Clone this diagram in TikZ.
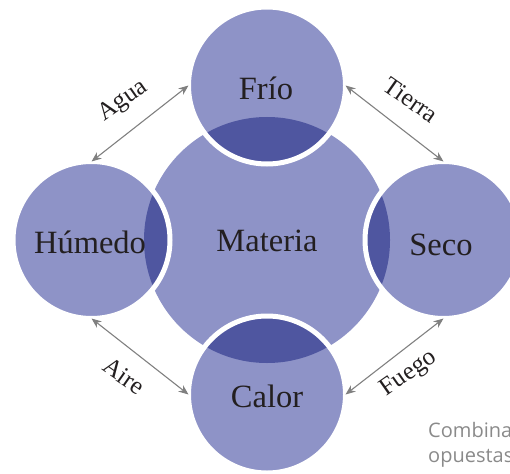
\documentclass[tikz,border=0pt]{standalone}
\usepackage{fontspec}
\setmainfont{Liberation Serif}
\newfontfamily\notefont{Open Sans}
\usetikzlibrary{arrows.meta}
\definecolor{lightc}{HTML}{8E93C7}
\definecolor{darkc}{HTML}{4F56A0}
\definecolor{txt}{HTML}{231F20}
\definecolor{arr}{HTML}{808080}
\definecolor{note}{HTML}{8A8A8A}
\tikzset{
  bigc/.style={circle, fill=lightc, minimum size=246pt, inner sep=0pt, outer sep=0pt},
  smallc/.style={circle, fill=lightc, minimum size=157pt, inner sep=0pt, outer sep=0pt},
  ring/.style={draw=white, line width=5pt},
  ctext/.style={text=txt, font=\fontsize{32.5}{38}\selectfont, inner sep=0pt},
  ltext/.style={text=txt, font=\fontsize{25}{29}\selectfont, inner sep=0pt},
  conn/.style={draw=arr, line width=1.1pt, {Stealth[length=10pt,width=8pt]}-{Stealth[length=10pt,width=8pt]}},
  notestyle/.style={anchor=base west, text=note, font=\notefont\fontsize{20}{24}\selectfont, inner sep=0pt},
}
\begin{document}
\begin{tikzpicture}[x=1pt,y=-1pt]
\useasboundingbox (0,0) rectangle (510,473);
% circles
\node[bigc] (mat) at (267,240) {};
\node[smallc] (frio) at (267,85.5) {};
\node[smallc] (hum) at (91.5,240) {};
\node[smallc] (seco) at (443.5,240) {};
\node[smallc] (calor) at (267,394.5) {};
% dark overlaps
\begin{scope}
  \clip (mat.center) circle[radius=123];
  \fill[darkc] (frio.center) circle[radius=78.5];
  \fill[darkc] (hum.center) circle[radius=78.5];
  \fill[darkc] (seco.center) circle[radius=78.5];
  \fill[darkc] (calor.center) circle[radius=78.5];
\end{scope}
% white rings
\draw[ring] (frio.center) circle[radius=78.5];
\draw[ring] (hum.center) circle[radius=78.5];
\draw[ring] (seco.center) circle[radius=78.5];
\draw[ring] (calor.center) circle[radius=78.5];
% texts
\node[ctext] (tmat) at (267,241) {Materia};
\node[ctext] (tfrio) at (266,88) {Frío};
\node[ctext] (thum) at (90,242) {Húmedo};
\node[ctext] (tseco) at (441,245) {Seco};
\node[ctext] (tcalor) at (267,396) {Calor};
% connectors
\draw[conn] (hum.north) -- (frio.west);
\draw[conn] (frio.east) -- (seco.north);
\draw[conn] (hum.south) -- (calor.west);
\draw[conn] (calor.east) -- (seco.south);
% labels
\node[ltext, rotate=35] (lagua) at (123,101) {Agua};
\node[ltext, rotate=-35] (ltierra) at (411,100) {Tierra};
\node[ltext, rotate=-35] (laire) at (124,376) {Aire};
\node[ltext, rotate=35] (lfuego) at (409,374) {Fuego};
% note
\node[notestyle] (n1) at (428,437) {Combina};
\node[notestyle] (n2) at (428,462) {opuestas};
\end{tikzpicture}
\end{document}
